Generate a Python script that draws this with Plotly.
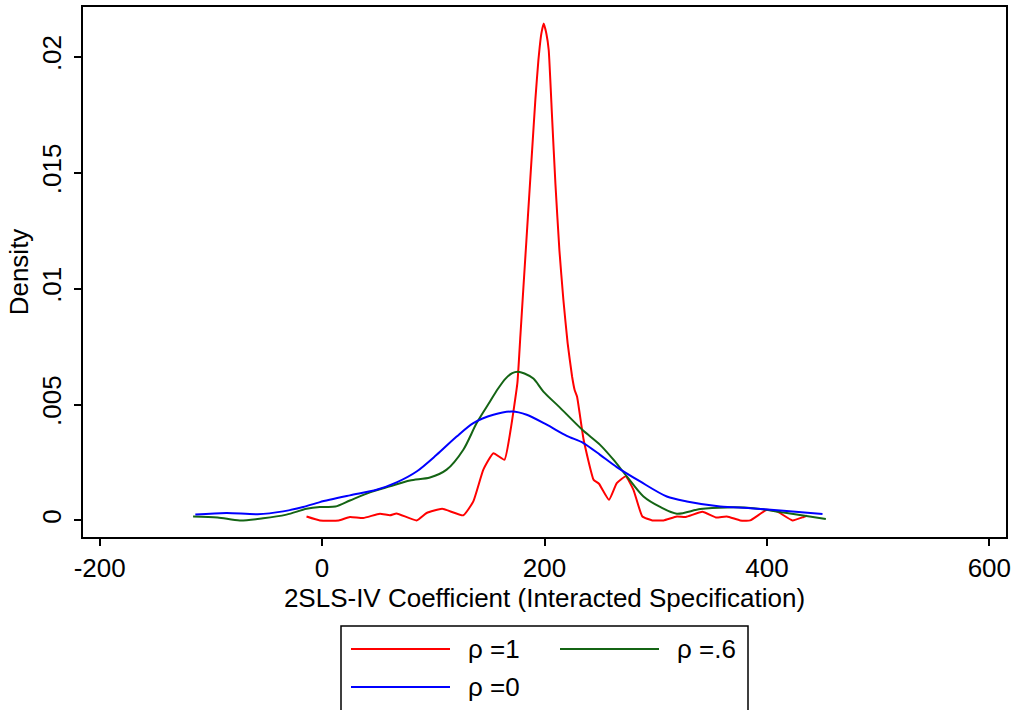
'''
Kernel density of the 2SLS-IV coefficient for three values of rho
'''

import plotly.graph_objects as go

# curve values
rho1_x = [-14, -2, 15, 25, 37, 52, 61, 67, 85, 94, 108, 127, 136, 145, 154, 164, 169.5,
          175.6, 178.3, 181, 183.7, 186.4, 189.1, 191.8, 194.5, 197.2, 199.3, 201.7,
          203.8, 206.8, 209.8, 213.4, 217, 220.8, 224.8, 227.1, 229.3, 235.2, 244.2,
          249, 258, 265, 273, 280, 288, 297, 307, 319, 327, 342, 354, 364, 376, 385,
          400, 409, 423, 433, 436]
rho1_y = [0.00017, 0.0, 0.0, 0.00015, 0.0001, 0.00029, 0.00022, 0.0003, 0.0, 0.00032,
          0.0005, 0.00022, 0.00082, 0.00219, 0.0029, 0.00262, 0.0039, 0.00592, 0.00796,
          0.01003, 0.01206, 0.01412, 0.01615, 0.01817, 0.01985, 0.02102, 0.02144, 0.0210,
          0.02029, 0.01741, 0.01454, 0.01166, 0.00951, 0.00765, 0.00621, 0.00563,
          0.00534, 0.00348, 0.00175, 0.00158, 0.00089, 0.00161, 0.0019, 0.00132,
          0.00017, 0.0, 0.0, 0.00017, 0.00015, 0.00037, 0.00013, 0.00017, 0.0, 0.0,
          0.00046, 0.00039, 0.0, 0.00015, 0.0002]

rho06_x = [-116, -94, -74, -53, -32, -14, -2, 12, 25, 43, 61, 79, 97, 112, 127, 139,
           151, 158, 165, 171, 176, 182, 190, 199, 213, 234, 250, 262, 274, 289, 304,
           319, 340, 364, 388, 415, 453]
rho06_y = [0.00017, 0.00013, 0.0, 0.00009, 0.00025, 0.0005, 0.00058, 0.0006, 0.00086,
           0.00121, 0.00147, 0.00172, 0.00185, 0.00219, 0.00305, 0.0042, 0.00513,
           0.00567, 0.00612, 0.00636, 0.00642, 0.00634, 0.00612, 0.00556, 0.00491,
           0.00391, 0.00326, 0.00262, 0.0019, 0.00103, 0.00058, 0.00029, 0.00049,
           0.00056, 0.00053, 0.00034, 0.00006]

rho0_x = [-114, -86, -58, -35, -17, -2, 25, 49, 67, 85, 103, 121, 136, 154, 171, 184,
          202, 220, 235, 250, 265, 286, 310, 328, 358, 385, 415, 450]
rho0_y = [0.00025, 0.00032, 0.00027, 0.00039, 0.00058, 0.00079, 0.00108, 0.00132,
          0.00164, 0.00211, 0.00283, 0.00362, 0.0042, 0.00456, 0.0047, 0.00456, 0.00413,
          0.00365, 0.00334, 0.00283, 0.0023, 0.00168, 0.00103, 0.00082, 0.0006, 0.00053,
          0.00042, 0.00028]

x_ticks = [-200, 0, 200, 400, 600]
x_tick_labels = ['-200', '0', '200', '400', '600']
y_ticks = [0, 0.005, 0.01, 0.015, 0.02]
y_tick_labels = ['0', '.005', '.01', '.015', '.02']

series = [('ρ =1', rho1_x, rho1_y, 'rgb(255,0,0)', 0.4),
          ('ρ =.6', rho06_x, rho06_y, 'rgb(20,100,20)', 0.8),
          ('ρ =0', rho0_x, rho0_y, 'rgb(0,0,255)', 0.8)]

W, H = 1014, 710
ML, MR, MT, MB = 83, 8, 7, 173
FONT = 'Liberation Sans, Arial, sans-serif'
FS = 26


def px_x(px):
    return (px - ML) / (W - ML - MR)


def px_y(py):
    return (H - MB - py) / (H - MB - MT)


fig = go.Figure()
for name, xs, ys, col, smooth in series:
    fig.add_trace(go.Scatter(x=xs, y=ys, mode='lines', name=name, showlegend=False,
                             line=dict(color=col, width=2, shape='spline',
                                       smoothing=smooth)))

axis_style = dict(showline=True, linecolor='black', linewidth=2, mirror=True,
                  ticks='outside', ticklen=7, tickwidth=1.5, tickcolor='black',
                  showgrid=False, zeroline=False, automargin=False,
                  tickfont=dict(family=FONT, size=FS, color='black'),
                  title_font=dict(family=FONT, size=FS, color='black'))

fig.update_xaxes(range=[-215, 615], tickvals=x_ticks, ticktext=x_tick_labels,
                 title_text='2SLS-IV Coefficient (Interacted Specification)',
                 title_standoff=5, ticklabeloverflow='allow', **axis_style)
fig.update_yaxes(range=[-0.000716, 0.022155], tickvals=y_ticks, ticktext=y_tick_labels,
                 tickangle=-90, title_text='Density', title_standoff=0,
                 ticklabelstandoff=3, **axis_style)

# legend box drawn below the plot
shapes = [dict(type='rect', xref='paper', yref='paper',
               x0=px_x(341), x1=px_x(748), y0=px_y(730), y1=px_y(626),
               line=dict(color='black', width=1.5), fillcolor='white', layer='below')]
annotations = []
slots = [(351, 649), (560, 649), (351, 687)]
for (name, _, _, col, _), (lx, ly) in zip(series, slots):
    shapes.append(dict(type='line', xref='paper', yref='paper',
                       x0=px_x(lx), x1=px_x(lx + 99), y0=px_y(ly), y1=px_y(ly),
                       line=dict(color=col, width=2)))
    annotations.append(dict(text=name, xref='paper', yref='paper', showarrow=False,
                            x=px_x(lx + 115), y=px_y(ly), xanchor='left',
                            yanchor='middle',
                            font=dict(family=FONT, size=FS, color='black')))

fig.update_layout(width=W, height=H, margin=dict(l=ML, r=MR, t=MT, b=MB),
                  plot_bgcolor='white', paper_bgcolor='white',
                  shapes=shapes, annotations=annotations)

# drop the default page margin so the figure fills the window
fig.write_html("out.html", config={'displayModeBar': False},
               post_script="document.body.style.margin = '0';")
